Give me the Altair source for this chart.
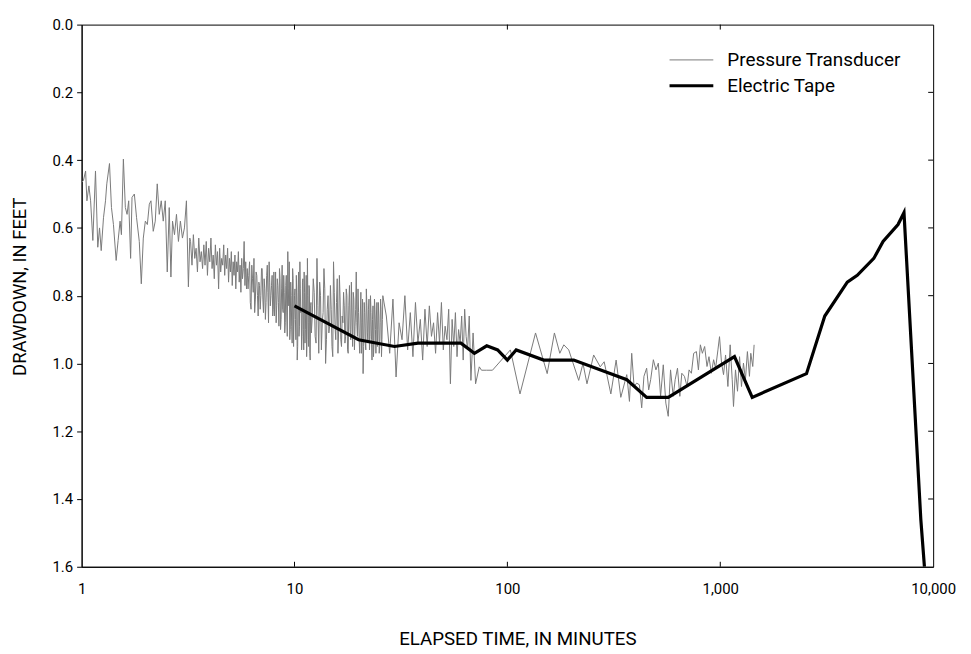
import altair as alt
import pandas as pd

# ---------------- data ----------------
series_names = ["Pressure Transducer", "Electric Tape"]

# Pressure transducer, early sparse part (1 - 3.2 min)
pt_time_a = [1.00, 1.02, 1.044, 1.059, 1.082, 1.102, 1.129, 1.162, 1.191, 1.214,
             1.236, 1.267, 1.295, 1.313, 1.352, 1.381, 1.411, 1.453, 1.484, 1.516,
             1.538, 1.571, 1.605, 1.635, 1.664, 1.699, 1.725, 1.769, 1.812, 1.866,
             1.907, 1.949, 1.992, 2.036, 2.080, 2.117, 2.170, 2.218, 2.266, 2.316,
             2.366, 2.418, 2.471, 2.525, 2.580, 2.627, 2.673, 2.731, 2.790, 2.850,
             2.911, 2.976, 3.041, 3.107, 3.174, 3.222]
pt_draw_a = [0.466, 0.46, 0.432, 0.52, 0.476, 0.52, 0.637, 0.432, 0.657, 0.60,
             0.667, 0.57, 0.52, 0.47, 0.41, 0.54, 0.59, 0.696, 0.637, 0.58,
             0.62, 0.397, 0.54, 0.56, 0.52, 0.69, 0.51, 0.50, 0.57, 0.64,
             0.765, 0.63, 0.58, 0.59, 0.53, 0.52, 0.61, 0.58, 0.47, 0.56,
             0.52, 0.58, 0.52, 0.73, 0.54, 0.745, 0.58, 0.62, 0.56, 0.64,
             0.58, 0.63, 0.60, 0.52, 0.774, 0.63]

# 3.25 - 6.0 min
pt_time_b1 = [3.25, 3.30, 3.35, 3.40, 3.45, 3.50, 3.55, 3.60, 3.65, 3.70,
              3.75, 3.80, 3.85, 3.90, 3.95, 4.00, 4.05, 4.10, 4.15, 4.20,
              4.25, 4.30, 4.35, 4.40, 4.45, 4.50, 4.55, 4.60, 4.65, 4.70,
              4.75, 4.80, 4.85, 4.90, 4.95, 5.00, 5.05, 5.10, 5.15, 5.20,
              5.25, 5.30, 5.35, 5.40, 5.45, 5.50, 5.55, 5.60, 5.65, 5.70,
              5.75, 5.80, 5.85, 5.90, 5.95, 6.00]
pt_draw_b1 = [0.64, 0.71, 0.62, 0.69, 0.66, 0.73, 0.63, 0.70, 0.67, 0.72,
              0.65, 0.71, 0.64, 0.74, 0.66, 0.70, 0.63, 0.72, 0.68, 0.75,
              0.65, 0.71, 0.67, 0.78, 0.66, 0.73, 0.69, 0.71, 0.65, 0.74,
              0.68, 0.72, 0.66, 0.76, 0.69, 0.73, 0.67, 0.77, 0.70, 0.74,
              0.68, 0.78, 0.70, 0.73, 0.67, 0.76, 0.71, 0.79, 0.69, 0.75,
              0.72, 0.64, 0.77, 0.70, 0.78, 0.72]

# 6.05 - 12 min
pt_time_b2 = [6.1, 6.2, 6.3, 6.4, 6.5, 6.6, 6.7, 6.8, 6.9, 7.0,
              7.1, 7.2, 7.3, 7.4, 7.5, 7.6, 7.7, 7.8, 7.9, 8.0,
              8.1, 8.2, 8.3, 8.4, 8.5, 8.6, 8.7, 8.8, 8.9, 9.0,
              9.1, 9.2, 9.3, 9.4, 9.5, 9.6, 9.7, 9.8, 9.9, 10.0,
              10.1, 10.2, 10.3, 10.4, 10.5, 10.6, 10.7, 10.8, 10.9, 11.0,
              11.1, 11.2, 11.3, 11.4, 11.5, 11.6, 11.7, 11.8, 11.9, 12.0]
pt_draw_b2 = [0.74, 0.82, 0.71, 0.79, 0.85, 0.73, 0.80, 0.76, 0.84, 0.72,
              0.81, 0.75, 0.87, 0.74, 0.79, 0.70, 0.83, 0.77, 0.86, 0.73,
              0.80, 0.88, 0.75, 0.82, 0.72, 0.90, 0.78, 0.84, 0.74, 0.91,
              0.77, 0.86, 0.67, 0.83, 0.93, 0.76, 0.89, 0.72, 0.95, 0.80,
              0.87, 0.74, 0.99, 0.79, 0.92, 0.70, 0.85, 0.96, 0.76, 0.90,
              0.73, 0.94, 0.81, 0.98, 0.69, 0.88, 0.77, 0.97, 0.83, 0.91]
pt_time_b2h = [6.05, 6.15, 6.25, 6.35, 6.45, 6.55, 6.65, 6.75, 6.85, 6.95,
               7.05, 7.15, 7.25, 7.35, 7.45, 7.55, 7.65, 7.75, 7.85, 7.95,
               8.05, 8.15, 8.25, 8.35, 8.45, 8.55, 8.65, 8.75, 8.85, 8.95,
               9.05, 9.15, 9.25, 9.35, 9.45, 9.55, 9.65, 9.75, 9.85, 9.95,
               10.05, 10.15, 10.25, 10.35, 10.45, 10.55, 10.65, 10.75, 10.85, 10.95,
               11.05, 11.15, 11.25, 11.35, 11.45, 11.55, 11.65, 11.75, 11.85, 11.95]
pt_draw_b2h = [0.78, 0.70, 0.84, 0.75, 0.69, 0.81, 0.74, 0.86, 0.77, 0.80,
               0.72, 0.85, 0.78, 0.82, 0.71, 0.88, 0.76, 0.80, 0.74, 0.84,
               0.86, 0.73, 0.83, 0.77, 0.89, 0.75, 0.87, 0.71, 0.85, 0.79,
               0.88, 0.74, 0.92, 0.78, 0.70, 0.90, 0.80, 0.94, 0.75, 0.87,
               0.78, 0.93, 0.81, 0.95, 0.73, 0.89, 0.78, 0.84, 0.92, 0.75,
               0.96, 0.79, 0.90, 0.74, 0.93, 0.80, 0.95, 0.78, 0.99, 0.82]

# 12.125 - 26 min
pt_time_b3 = [12.25, 12.5, 12.75, 13.0, 13.25, 13.5, 13.75, 14.0, 14.25, 14.5,
              14.75, 15.0, 15.25, 15.5, 15.75, 16.0, 16.25, 16.5, 16.75, 17.0,
              17.25, 17.5, 17.75, 18.0, 18.25, 18.5, 18.75, 19.0, 19.25, 19.5,
              19.75, 20.0, 20.25, 20.5, 20.75, 21.0, 21.25, 21.5, 21.75, 22.0,
              22.25, 22.5, 22.75, 23.0, 23.25, 23.5, 23.75, 24.0, 24.25, 24.5,
              24.75, 25.0, 25.25, 25.5, 25.75, 26.0]
pt_draw_b3 = [0.75, 0.92, 0.69, 0.97, 0.80, 0.88, 0.72, 1.00, 0.84, 0.91,
              0.77, 0.95, 0.70, 0.89, 0.82, 0.97, 0.74, 0.93, 0.86, 0.79,
              0.94, 0.78, 0.96, 0.83, 0.90, 0.76, 0.95, 0.81, 0.89, 0.73,
              0.92, 0.85, 0.97, 0.79, 0.88, 1.03, 0.82, 0.94, 0.78, 0.91,
              0.84, 0.96, 0.80, 0.93, 0.87, 0.98, 0.81, 0.90, 0.86, 0.95,
              0.82, 0.97, 0.88, 0.84, 0.93, 0.80]
pt_time_b3h = [12.125, 12.375, 12.625, 12.875, 13.125, 13.375, 13.625, 13.875, 14.125, 14.375,
               14.625, 14.875, 15.125, 15.375, 15.625, 15.875, 16.125, 16.375, 16.625, 16.875,
               17.125, 17.375, 17.625, 17.875, 18.125, 18.375, 18.625, 18.875, 19.125, 19.375,
               19.625, 19.875, 20.125, 20.375, 20.625, 20.875, 21.125, 21.375, 21.625, 21.875,
               22.125, 22.375, 22.625, 22.875, 23.125, 23.375, 23.625, 23.875, 24.125, 24.375,
               24.625, 24.875, 25.125, 25.375, 25.625, 25.875]
pt_draw_b3h = [0.86, 0.79, 0.94, 0.83, 0.76, 0.96, 0.85, 0.78, 0.93, 0.80,
               0.89, 0.84, 0.98, 0.79, 0.93, 0.75, 0.90, 0.81, 0.95, 0.88,
               0.83, 0.92, 0.80, 0.97, 0.77, 0.93, 0.86, 0.79, 0.96, 0.84,
               0.88, 0.78, 0.93, 0.86, 0.97, 0.81, 0.95, 0.85, 0.96, 0.83,
               0.94, 0.81, 0.92, 0.85, 0.99, 0.83, 0.94, 0.84, 0.97, 0.82,
               0.90, 0.86, 0.95, 0.81, 0.98, 0.87]

# 27 - 64 min
pt_time_b4 = [27, 28, 29, 30, 31, 32, 33, 34, 35, 36,
              37, 38, 39, 40, 41, 42, 43, 44, 45, 46,
              47, 48, 49, 50, 51, 52, 53, 54, 55, 56,
              57, 58, 59, 60, 61, 62, 63, 64]
pt_draw_b4 = [0.86, 0.97, 0.81, 1.04, 0.88, 0.93, 0.80, 0.96, 0.85, 0.98,
              0.82, 0.94, 0.87, 0.99, 0.84, 0.95, 0.83, 0.92, 0.88, 0.97,
              0.85, 0.94, 0.82, 0.96, 0.89, 0.93, 0.84, 1.06, 0.87, 0.95,
              0.85, 0.98, 0.90, 0.94, 0.86, 0.99, 0.84, 0.92]

# 65 - 341 min
pt_time_c = [65.0, 66.2, 67.4, 69.0, 70.9, 73.8, 75.6, 79.8, 85.1, 103.3,
             114.6, 135.6, 153.8, 166.3, 176.3, 184.1, 194.2, 216.3, 226.5, 236.5,
             254.2, 272.9, 284.9, 306.2, 324.2, 341.0]
pt_draw_c = [0.96, 0.86, 1.05, 0.91, 1.06, 1.01, 1.02, 1.02, 1.02, 0.96,
             1.09, 0.91, 1.03, 0.91, 0.97, 0.945, 0.96, 1.05, 1.00, 1.06,
             0.975, 1.01, 0.995, 1.09, 0.99, 1.10]

# 364 - 1442 min
pt_time_d = [363.7, 374.4, 383.7, 393.6, 405, 417, 427.5, 438, 451, 461,
             471, 485, 498.6, 511.7, 524.4, 539.8, 555, 569.6, 584, 601,
             614, 629.6, 645.7, 659.6, 678.6, 698.5, 713.6, 731.7, 750, 772.6,
             789.4, 806.5, 823.9, 844.5, 866.4, 885, 907.8, 930.5, 950.7, 975,
             992, 1014, 1036, 1059, 1086, 1113, 1138, 1154, 1179, 1205,
             1232, 1258, 1285, 1313, 1341, 1371, 1391, 1421, 1442]
pt_draw_d = [1.033, 1.112, 0.970, 1.068, 1.058, 1.063, 1.131, 1.038, 1.014, 1.078,
             1.048, 0.989, 1.019, 0.999, 1.097, 1.004, 1.117, 1.156, 1.019, 1.097,
             1.048, 1.014, 1.097, 1.029, 1.038, 1.068, 1.019, 1.029, 0.970, 0.965,
             1.019, 0.945, 0.970, 0.950, 1.009, 0.980, 1.029, 0.989, 1.014, 0.960,
             0.921, 0.999, 1.033, 0.975, 1.068, 0.945, 1.048, 1.127, 1.019, 1.082,
             0.980, 1.068, 0.999, 1.048, 0.965, 1.038, 0.970, 1.009, 0.945]

# Electric tape
tape_time = [10, 20, 29.5, 38, 60.5, 70, 80, 90, 100, 110,
             148, 205, 364, 451, 570, 1166, 1413, 2541, 3097, 3951,
             4400, 5263, 5818, 6838, 7295, 8750, 9100]
tape_draw = [0.83, 0.93, 0.95, 0.94, 0.94, 0.97, 0.948, 0.96, 0.99, 0.96,
             0.99, 0.99, 1.048, 1.10, 1.10, 0.98, 1.10, 1.03, 0.86, 0.76,
             0.74, 0.69, 0.64, 0.59, 0.555, 1.46, 1.60]

x_tick_values = [1, 10, 100, 1000, 10000]
x_inner_ticks = [10, 100, 1000]
y_tick_values = [0.0, 0.2, 0.4, 0.6, 0.8, 1.0, 1.2, 1.4, 1.6]
y_inner_ticks = [0.2, 0.4, 0.6, 0.8, 1.0, 1.2, 1.4]

# ---------------- build ----------------
pt_time = (pt_time_a + pt_time_b1 + pt_time_b2 + pt_time_b2h + pt_time_b3 + pt_time_b3h
           + pt_time_b4 + pt_time_c + pt_time_d)
pt_draw = (pt_draw_a + pt_draw_b1 + pt_draw_b2 + pt_draw_b2h + pt_draw_b3 + pt_draw_b3h
           + pt_draw_b4 + pt_draw_c + pt_draw_d)

pt_df = pd.DataFrame({"t": pt_time, "d": pt_draw, "series": series_names[0]})
pt_df = pt_df.sort_values("t").reset_index(drop=True)
tape_df = pd.DataFrame({"t": tape_time, "d": tape_draw, "series": series_names[1]})
xt_df = pd.DataFrame({"t": x_inner_ticks})
yt_df = pd.DataFrame({"d": y_inner_ticks})

W, H = 856, 545
FONT = "Roboto"

xscale = alt.Scale(type="log", domain=[1, 10000], nice=False)
yscale = alt.Scale(domain=[0, 1.6], reverse=True, nice=False, zero=False)

x_axis = alt.Axis(values=x_tick_values, format=",", title="ELAPSED TIME, IN MINUTES",
                  grid=False, ticks=False, tickSize=0, labelFlush=False, labelPadding=15,
                  titleX=438, titleY=72, titleAlign="center", titleBaseline="middle",
                  titleFontSize=18.8, labelFontSize=15)
y_axis = alt.Axis(values=y_tick_values, format=".1f", title="DRAWDOWN, IN FEET",
                  grid=False, ticks=True, tickSize=5, labelPadding=4,
                  titleX=-62, titleY=263, titleAngle=270, titleAlign="center",
                  titleBaseline="middle", titleFontSize=18.5, labelFontSize=15)

x_enc = alt.X("t:Q", scale=xscale, axis=x_axis)
y_enc = alt.Y("d:Q", scale=yscale, axis=y_axis)

legend = alt.Legend(orient="none", legendX=603.5, legendY=26, symbolType="M-4,0H4",
                    symbolSize=121, labelFontSize=19, labelOffset=26.5, rowPadding=6,
                    labelLimit=400, padding=0, labelColor="black", labelFont=FONT, title=None)
color_enc = alt.Color("series:N", scale=alt.Scale(domain=series_names, range=["#7a7a7a", "#000000"]),
                      legend=legend, title=None)
sw_enc = alt.StrokeWidth("series:N", scale=alt.Scale(domain=series_names, range=[1, 3.2]),
                         legend=legend, title=None)

pt_line = alt.Chart(pt_df).mark_line(clip=True, strokeJoin="miter").encode(
    x=x_enc, y=y_enc, color=color_enc, strokeWidth=sw_enc)
tape_line = alt.Chart(tape_df).mark_line(clip=True, strokeJoin="miter").encode(
    x=x_enc, y=y_enc, color=color_enc, strokeWidth=sw_enc)

top_ticks = alt.Chart(xt_df).mark_rule(color="black", strokeWidth=1).encode(
    x=x_enc, y=alt.value(0), y2=alt.value(5))
bottom_ticks = alt.Chart(xt_df).mark_rule(color="black", strokeWidth=1).encode(
    x=x_enc, y=alt.value(H - 5), y2=alt.value(H))
right_ticks = alt.Chart(yt_df).mark_rule(color="black", strokeWidth=1).encode(
    y=y_enc, x=alt.value(W - 5), x2=alt.value(W))

chart = alt.layer(pt_line, tape_line, top_ticks, bottom_ticks, right_ticks).properties(
    width=W, height=H,
    autosize=alt.AutoSizeParams(type="none"),
    padding={"left": 74, "top": 15, "right": 30, "bottom": 84},
).configure_view(
    stroke="black", strokeWidth=1
).configure_axis(
    labelFont=FONT, titleFont=FONT, labelColor="black", titleColor="black",
    titleFontWeight="normal", domainColor="black", domainWidth=1, tickColor="black",
).configure_legend(
    labelFont=FONT
)

chart.save("out.html", embed_options={"renderer": "svg", "actions": False})
